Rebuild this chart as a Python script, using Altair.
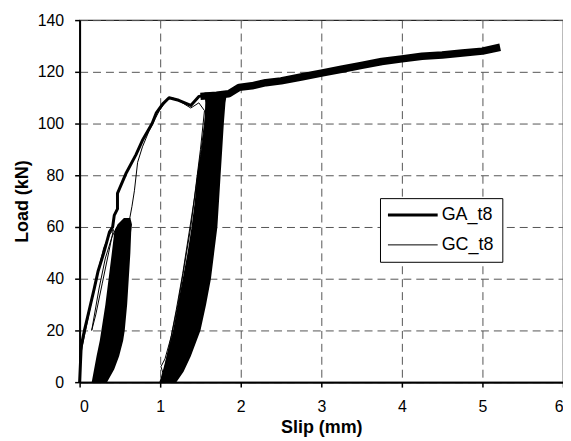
import altair as alt
import pandas as pd

FONT = "Liberation Sans"

# ---- GA_t8 envelope (thick line) ----
GA_X = [0.00, 0.02, 0.06, 0.12, 0.18, 0.23, 0.30, 0.37, 0.41, 0.43, 0.47, 0.47,
        0.58, 0.70, 0.78, 0.90, 0.95, 1.03, 1.11, 1.23, 1.38, 1.48, 1.60, 1.69, 1.85]
GA_Y = [0, 14, 20, 28, 36, 43, 50, 58, 60, 64.5, 67, 73,
        81, 88, 93.5, 100, 104, 107.5, 110, 109, 107, 110.5, 111, 111, 111]

# ---- GA_t8 post-peak branch (noisy, drawn thick) ----
TAIL_X = [1.50, 1.70, 1.85, 1.98, 2.14, 2.31, 2.50, 2.75, 3.00, 3.25, 3.50,
          3.75, 4.00, 4.25, 4.50, 4.75, 5.00, 5.22]
TAIL_Y = [110.5, 111, 111.5, 114, 114.6, 115.8, 116.5, 118, 119.5, 121, 122.5,
          124, 125, 126, 126.5, 127.3, 128, 129.5]

# ---- GC_t8 (thin line) ----
GC_X = [0.00, 0.01, 0.06, 0.14, 0.22, 0.30, 0.37, 0.42, 0.36, 0.28, 0.20, 0.15,
        0.24, 0.32, 0.40, 0.46, 0.55, 0.62, 0.65, 0.68, 0.72, 0.78, 0.86, 0.94,
        0.99, 1.08, 1.15, 1.25, 1.38, 1.48, 1.55, 1.50, 1.44, 1.38, 1.30, 1.22,
        1.14, 1.06, 1.01, 1.04, 1.12, 1.20, 1.28, 1.36, 1.43, 1.50, 1.56, 1.60]
GC_Y = [0, 10, 18, 30, 42, 52, 57, 59, 50, 38, 26, 20,
        36, 48, 56, 60, 62, 63, 68, 74, 85, 91, 97, 102,
        105, 109, 110, 108.5, 106, 108, 105, 90, 75, 60, 45, 30,
        18, 9, 6, 3, 15, 28, 42, 58, 72, 88, 102, 109]

# ---- dense cyclic bands (left / right slip at each load level) ----
B1_Y = [0, 5, 10, 16, 20, 30, 40, 50, 58, 61, 63.5]
B1_L = [0.15, 0.18, 0.21, 0.25, 0.27, 0.32, 0.36, 0.40, 0.43, 0.47, 0.55]
B1_R = [0.34, 0.43, 0.49, 0.54, 0.56, 0.59, 0.61, 0.63, 0.64, 0.65, 0.63]

B2_Y = [0, 4, 10, 20, 30, 40, 50, 60, 70, 80, 90, 100, 108, 112]
B2_L = [0.99, 1.03, 1.08, 1.16, 1.22, 1.28, 1.34, 1.39, 1.43, 1.46, 1.51, 1.55, 1.56, 1.55]
B2_R = [1.20, 1.29, 1.38, 1.50, 1.57, 1.63, 1.67, 1.71, 1.73, 1.75, 1.77, 1.79, 1.81, 1.83]

X_TICKS = [0, 1, 2, 3, 4, 5, 6]
Y_TICKS = [0, 20, 40, 60, 80, 100, 120, 140]
SERIES = ["GA_t8", "GC_t8"]

lines = pd.concat([
    pd.DataFrame({"slip": GA_X, "load": GA_Y, "series": "GA_t8", "i": range(len(GA_X))}),
    pd.DataFrame({"slip": GC_X, "load": GC_Y, "series": "GC_t8", "i": range(len(GC_X))}),
])
tail = pd.DataFrame({"slip": TAIL_X, "load": TAIL_Y, "i": range(len(TAIL_X))})
band1 = pd.DataFrame({"load": B1_Y, "left": B1_L, "right": B1_R})
band2 = pd.DataFrame({"load": B2_Y, "left": B2_L, "right": B2_R})

xs = alt.Scale(domain=[0, 6], nice=False, zero=False)
ys = alt.Scale(domain=[0, 140], nice=False)

x_axis = alt.Axis(title="Slip (mm)", values=X_TICKS, format="d",
                  labelPadding=12, tickSize=5, titleX=243, titleY=46,
                  titleBaseline="middle")
y_axis = alt.Axis(title="Load (kN)", values=Y_TICKS, format="d",
                  labelPadding=11, tickSize=5, titleX=-57, titleY=182,
                  titleAngle=270, titleBaseline="middle", titleAlign="center")

leg = alt.Legend(orient="none", legendX=302, legendY=179, title=None,
                 symbolType="M-1.8,0H8.2", symbolSize=100,
                 labelFont=FONT, labelFontSize=18, labelColor="black",
                 labelOffset=36, padding=8, rowPadding=12,
                 strokeColor="black", fillColor="white")


def band_layer(df):
    return alt.Chart(df).mark_area(orient="horizontal", color="black", opacity=1).encode(
        y=alt.Y("load:Q", scale=ys, axis=y_axis),
        x=alt.X("left:Q", scale=xs, axis=x_axis, stack=None),
        x2="right:Q",
    )


line_layer = alt.Chart(lines).mark_line(strokeJoin="round").encode(
    x=alt.X("slip:Q", scale=xs, axis=x_axis),
    y=alt.Y("load:Q", scale=ys, axis=y_axis),
    order=alt.Order("i:Q"),
    color=alt.Color("series:N", scale=alt.Scale(domain=SERIES, range=["black", "black"]), legend=leg),
    strokeWidth=alt.StrokeWidth("series:N", scale=alt.Scale(domain=SERIES, range=[3, 1]), legend=leg),
)

tail_layer = alt.Chart(tail).mark_line(color="black", strokeWidth=7.5, strokeJoin="round").encode(
    x=alt.X("slip:Q", scale=xs, axis=x_axis),
    y=alt.Y("load:Q", scale=ys, axis=y_axis),
    order=alt.Order("i:Q"),
)

chart = alt.layer(band_layer(band1), band_layer(band2), line_layer, tail_layer).properties(
    width=486, height=364,
    autosize=alt.AutoSizeParams(type="none"),
    padding={"left": 72, "top": 11, "right": 0, "bottom": 58},
).configure_axis(
    labelFont=FONT, labelFontSize=16, labelColor="black",
    titleFont=FONT, titleFontSize=18, titleFontWeight="bold", titleColor="black",
    domainColor="black", domainWidth=2, tickColor="black", tickWidth=1.5,
    gridColor="#555555", gridDash=[8, 5], gridWidth=1,
).configure_view(stroke="#222222", strokeWidth=1.2)

chart.save("out.html", embed_options={"renderer": "svg", "actions": False})
